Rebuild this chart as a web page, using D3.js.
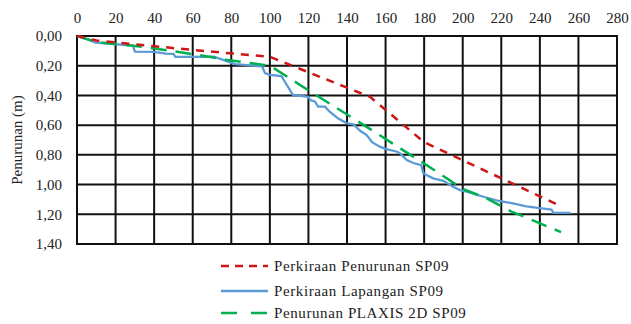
<!DOCTYPE html>
<html>
<head>
<meta charset="utf-8">
<script src="https://cdn.jsdelivr.net/npm/d3@7"></script>
<style>
  body { margin: 0; background: #fff; }
  svg text { font-family: "Liberation Serif", "Times New Roman", "DejaVu Serif", serif !important; fill: #222; }
</style>
</head>
<body>
<svg id="chart" width="631" height="324"></svg>
<script>
// x = beban (0-280), y = penurunan (m)
const xTicks = [0, 20, 40, 60, 80, 100, 120, 140, 160, 180, 200, 220, 240, 260, 280];
const yTicks = [0, 0.2, 0.4, 0.6, 0.8, 1.0, 1.2, 1.4];

const perkiraanPenurunan = [
  [0, 0], [10, 0.03], [60, 0.094], [100, 0.14], [152, 0.41], [180, 0.715], [250, 1.14]
];

const perkiraanLapangan = [
  [0, 0], [6, 0.025], [9.5, 0.045], [29, 0.065], [30, 0.105], [40, 0.107], [46, 0.118],
  [50, 0.12], [51, 0.14], [71, 0.139], [82, 0.189], [96, 0.205], [97.5, 0.25], [100, 0.262],
  [106, 0.27], [112, 0.397], [120, 0.41], [121, 0.431], [123.5, 0.442], [125, 0.476],
  [128.6, 0.476], [131, 0.51], [135.5, 0.556], [140, 0.588], [143.3, 0.595], [147, 0.64],
  [150.2, 0.667], [153, 0.715], [157, 0.745], [160, 0.76], [166, 0.779], [167.5, 0.79],
  [171, 0.835], [174.4, 0.855], [178.5, 0.87], [179.6, 0.925], [184.7, 0.958], [190, 0.975],
  [195, 1.015], [198.6, 1.037], [202, 1.048], [210.7, 1.082], [218, 1.108], [226, 1.126],
  [233, 1.147], [240, 1.158], [246, 1.168], [247, 1.19], [256, 1.19]
];

const penurunanPlaxis = [
  [0, 0], [10, 0.04], [36, 0.076], [62, 0.126], [78, 0.162], [100, 0.2], [123, 0.39],
  [150, 0.61], [168, 0.76], [185, 0.9], [200, 1.03], [212, 1.09], [225, 1.18], [251, 1.32]
];

const seriesNames = ["Perkiraan Penurunan SP09", "Perkiraan Lapangan SP09", "Penurunan PLAXIS 2D SP09"];

const svg = d3.select("#chart");
const plotLeft = 77, plotRight = 617, plotTop = 36, plotBottom = 244;

const x = d3.scaleLinear().domain([0, 280]).range([plotLeft, plotRight]);
const y = d3.scaleLinear().domain([0, 1.4]).range([plotTop, plotBottom]);

const idLocale = d3.formatLocale({ decimal: ",", thousands: ".", grouping: [3], currency: ["", ""] });
const fmtY = idLocale.format(".2f");

// grid
const grid = svg.append("g");
grid.selectAll("line.v").data(xTicks).enter().append("line")
  .attr("x1", d => x(d)).attr("x2", d => x(d))
  .attr("y1", plotTop).attr("y2", plotBottom)
  .attr("stroke", "#111").attr("stroke-width", 2);
grid.selectAll("line.h").data(yTicks).enter().append("line")
  .attr("x1", plotLeft - 1).attr("x2", plotRight + 1)
  .attr("y1", d => y(d)).attr("y2", d => y(d))
  .attr("stroke", "#111").attr("stroke-width", 2);

// axes
const xAxis = svg.append("g")
  .attr("transform", `translate(0,${plotTop})`)
  .call(d3.axisTop(x).tickValues(xTicks).tickSize(0).tickPadding(13));
const yAxis = svg.append("g")
  .attr("transform", `translate(${plotLeft},0)`)
  .call(d3.axisLeft(y).tickValues(yTicks).tickSize(0).tickPadding(15).tickFormat(fmtY));
[xAxis, yAxis].forEach(a => {
  a.attr("font-family", null).attr("font-size", null);
  a.select(".domain").remove();
  a.selectAll("text").style("font-size", "15px").attr("fill", "#222");
});

svg.append("text")
  .attr("transform", "translate(22,140) rotate(-90)")
  .attr("text-anchor", "middle")
  .style("font-size", "15px")
  .text("Penurunan (m)");

// lines
const line = d3.line().x(d => x(d[0])).y(d => y(d[1]));

svg.append("path").datum(perkiraanLapangan)
  .attr("d", line).attr("fill", "none")
  .attr("stroke", "#5B9BD5").attr("stroke-width", 2.3);
svg.append("path").datum(penurunanPlaxis)
  .attr("d", line).attr("fill", "none")
  .attr("stroke", "#00B050").attr("stroke-width", 2.5).attr("stroke-dasharray", "16,9");
svg.append("path").datum(perkiraanPenurunan)
  .attr("d", line).attr("fill", "none")
  .attr("stroke", "#CC1515").attr("stroke-width", 2.5).attr("stroke-dasharray", "8,7");

// legend
const legendY = [266, 291, 313];
const legendStyles = [
  { color: "#CC1515", dash: "8,6", w: 2.5 },
  { color: "#5B9BD5", dash: null, w: 2.3 },
  { color: "#00B050", dash: "16,14", w: 2.5 }
];
const lg = svg.append("g");
seriesNames.forEach((name, i) => {
  const s = legendStyles[i];
  lg.append("line")
    .attr("x1", 221).attr("x2", 268)
    .attr("y1", legendY[i]).attr("y2", legendY[i])
    .attr("stroke", s.color).attr("stroke-width", s.w)
    .attr("stroke-dasharray", s.dash);
  lg.append("text")
    .attr("x", 274).attr("y", legendY[i] + 5)
    .style("font-size", "15px")
    .style("letter-spacing", "0.6px")
    .text(name);
});
</script>
</body>
</html>
